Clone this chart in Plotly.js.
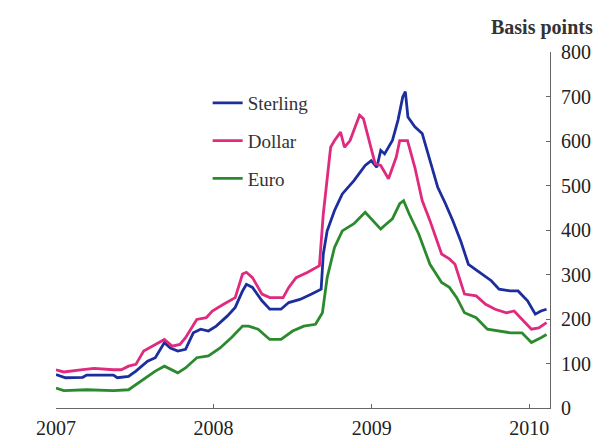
<!DOCTYPE html>
<html>
<head>
<meta charset="utf-8">
<script src="https://cdn.plot.ly/plotly-3.0.1.min.js"></script>
<style>html,body{margin:0;padding:0;background:#fff;}#chart{width:598px;height:439px;}</style>
</head>
<body>
<div id="chart"></div>
<script>
// Spread series, basis points
const seriesNames = ["Sterling", "Dollar", "Euro"];
const seriesColors = ["#1c2e9c", "#df2a7e", "#2b8a2e"];

const sterlingDates = ["2007-01-01","2007-01-23","2007-03-04","2007-03-13","2007-05-14","2007-05-23","2007-06-18","2007-07-05","2007-08-01","2007-08-19","2007-09-09","2007-09-23","2007-10-10","2007-10-28","2007-11-15","2007-12-02","2007-12-20","2008-01-07","2008-02-02","2008-02-20","2008-03-08","2008-03-17","2008-03-31","2008-04-22","2008-05-10","2008-06-05","2008-06-23","2008-07-19","2008-08-15","2008-09-06","2008-09-11","2008-09-20","2008-10-07","2008-10-25","2008-11-21","2008-12-17","2008-12-31","2009-01-13","2009-01-22","2009-01-31","2009-02-18","2009-03-03","2009-03-14","2009-03-20","2009-03-26","2009-04-11","2009-04-28","2009-05-12","2009-06-03","2009-06-21","2009-07-08","2009-07-26","2009-08-13","2009-09-08","2009-10-05","2009-10-23","2009-11-18","2009-12-06","2009-12-28","2010-01-15","2010-01-28","2010-02-10"];
const sterlingValues = [75,68,69,74,74,68,71,83,105,113,147,135,128,132,169,177,173,184,207,226,263,278,271,241,222,222,237,244,256,267,346,398,444,481,511,545,556,541,579,571,601,647,699,711,654,632,617,568,496,459,421,376,323,305,286,267,263,263,241,211,218,222];

const dollarDates = ["2007-01-01","2007-01-19","2007-03-04","2007-03-30","2007-05-14","2007-06-01","2007-06-18","2007-07-05","2007-07-23","2007-08-19","2007-09-09","2007-09-27","2007-10-15","2007-10-28","2007-11-23","2007-12-15","2007-12-29","2008-01-24","2008-02-20","2008-03-08","2008-03-17","2008-03-31","2008-04-22","2008-05-10","2008-06-10","2008-06-23","2008-07-10","2008-08-06","2008-09-02","2008-09-11","2008-09-28","2008-10-07","2008-10-21","2008-10-30","2008-11-12","2008-11-25","2008-12-04","2008-12-13","2008-12-26","2009-01-09","2009-01-22","2009-02-09","2009-02-27","2009-03-07","2009-03-25","2009-04-11","2009-04-28","2009-05-16","2009-06-12","2009-06-30","2009-07-13","2009-08-04","2009-08-31","2009-09-22","2009-10-14","2009-11-09","2009-11-27","2009-12-15","2010-01-06","2010-01-23","2010-02-10"];
const dollarValues = [86,81,86,89,86,86,94,98,128,143,154,139,143,158,199,203,218,233,248,301,305,293,256,248,248,271,293,305,320,436,586,601,620,586,601,635,658,650,601,549,545,515,564,601,601,541,466,421,346,335,323,256,252,233,222,214,218,199,177,180,192];

const euroDates = ["2007-01-01","2007-01-19","2007-03-13","2007-05-14","2007-06-18","2007-07-05","2007-08-01","2007-08-19","2007-09-09","2007-10-10","2007-10-28","2007-11-23","2007-12-20","2008-01-16","2008-02-11","2008-03-08","2008-03-22","2008-04-13","2008-05-10","2008-06-05","2008-07-02","2008-07-28","2008-08-24","2008-09-09","2008-09-20","2008-10-07","2008-10-25","2008-11-21","2008-12-17","2008-12-31","2009-01-22","2009-01-31","2009-02-18","2009-03-07","2009-03-16","2009-03-29","2009-04-20","2009-05-16","2009-06-12","2009-06-30","2009-07-17","2009-08-04","2009-08-31","2009-09-26","2009-10-23","2009-11-18","2009-12-15","2010-01-06","2010-01-28","2010-02-10"];
const euroValues = [45,39,41,39,41,53,71,83,94,79,90,113,117,135,158,184,184,177,154,154,173,184,188,214,293,361,398,414,440,425,402,410,425,459,466,436,391,323,282,271,248,214,203,177,173,169,169,147,158,165];

const yearTickVals = ["2007-01-01","2008-01-01","2009-01-01","2010-01-01"];
const yearTickText = ["2007","2008","2009","2010"];
const yTickVals = [0,100,200,300,400,500,600,700,800];
const unitLabel = "Basis points";

const allDates = [sterlingDates, dollarDates, euroDates];
const allValues = [sterlingValues, dollarValues, euroValues];

const serif = "'Liberation Serif', 'Times New Roman', serif";

const traces = seriesNames.map((name, i) => ({
  type: "scatter",
  mode: "lines",
  name: name,
  legendgroup: name,
  x: allDates[i],
  y: allValues[i],
  line: {color: seriesColors[i], width: 2.8},
  hoverinfo: "skip"
}));

const layout = {
  width: 598,
  height: 439,
  margin: {l: 56, r: 48, t: 52, b: 31, pad: 0},
  paper_bgcolor: "#ffffff",
  plot_bgcolor: "#ffffff",
  showlegend: true,
  legend: {
    x: 0.307, y: 0.91, xanchor: "left", yanchor: "top",
    bgcolor: "rgba(0,0,0,0)",
    font: {family: serif, size: 19, color: "#333333"},
    tracegroupgap: 10
  },
  xaxis: {
    type: "date",
    range: ["2007-01-01", "2010-02-18"],
    tickmode: "array",
    tickvals: yearTickVals,
    ticktext: yearTickText,
    ticks: "inside",
    ticklen: 4,
    tickcolor: "#666666",
    showline: true,
    linecolor: "#666666",
    linewidth: 1,
    showgrid: false,
    zeroline: false,
    ticklabelstandoff: 2,
    tickfont: {family: serif, size: 20, color: "#222222"}
  },
  yaxis: {
    side: "right",
    range: [0, 800],
    tickmode: "array",
    tickvals: yTickVals,
    ticks: "inside",
    ticklen: 4,
    tickcolor: "#666666",
    showline: true,
    linecolor: "#666666",
    linewidth: 1,
    showgrid: false,
    zeroline: false,
    ticklabelstandoff: 6,
    tickfont: {family: serif, size: 20, color: "#222222"}
  },
  annotations: [{
    text: unitLabel,
    xref: "paper", yref: "paper",
    x: 1.091, y: 1.07,
    xanchor: "right", yanchor: "middle",
    showarrow: false,
    font: {family: serif, size: 20, color: "#333333", weight: "bold"}
  }]
};

Plotly.newPlot("chart", traces, layout, {staticPlot: true, displayModeBar: false});
</script>
</body>
</html>
